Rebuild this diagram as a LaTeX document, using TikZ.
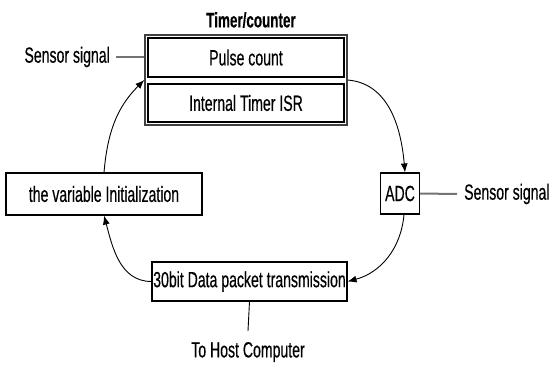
\documentclass[tikz,border=0pt]{standalone}
\usepackage{fontspec}
\setmainfont{Liberation Sans}[FakeStretch=0.64, FakeBold=0.4]
\usetikzlibrary{arrows.meta, fit, positioning}

\begin{document}
\begin{tikzpicture}[x=1pt, y=1pt,
  box/.style={draw, line width=1.1pt, minimum height=39pt, inner sep=0pt,
    font=\fontsize{22}{24}\selectfont},
  txt/.style={inner sep=0pt, font=\fontsize{22}{24}\selectfont},
  flow/.style={-{Latex[length=9pt,width=7pt]}, line width=0.9pt},
  wire/.style={line width=2pt, black!55}]

\useasboundingbox (0,0) rectangle (554,-364);

% timer/counter block
\node[box, minimum width=196pt] (pulse) at (246,-57.5) {Pulse count};
\node[box, minimum width=196pt, minimum height=38pt] (isr) at (246,-103) {Internal Timer ISR};
\node[draw, line width=1.4pt, black!75, inner sep=2.5pt, fit=(pulse)(isr)] (timer) {};
\node[txt, font=\fontsize{21}{24}\selectfont\bfseries] (title) at (251,-20) {Timer/counter};

% loop boxes
\node[box, minimum width=196pt, minimum height=42pt] (init) at (104,-194) {the variable Initialization};
\node[box, minimum width=39pt, minimum height=41pt] (adc) at (400,-193.5) {ADC};
\node[box, minimum width=195pt] (data) at (249.5,-281.5) {30bit Data packet transmission};

% outside signals
\node[txt, anchor=east] (sensL) at (110,-57) {Sensor signal};
\node[txt, anchor=west] (sensR) at (464,-194) {Sensor signal};
\node[txt] (host) at (248,-352) {To Host Computer};

\draw[wire] ([xshift=6pt]sensL.east) -- (sensL.east -| timer.west);
\draw[wire] (adc.east) -- ([xshift=-7pt]sensR.west);
\draw[line width=0.9pt] (data.south) -- ([yshift=11pt]host.north);

% loop
\draw[flow] (init.north) to[out=85,in=-135] (timer.west);
\draw[flow] (timer.east) to[out=-5,in=95] ([xshift=5pt]adc.north);
\draw[flow] ([xshift=4pt]adc.south) to[out=-95,in=15] (data.east);
\draw[flow] (data.west) to[out=180,in=-75] (init.south);

\end{tikzpicture}
\end{document}
